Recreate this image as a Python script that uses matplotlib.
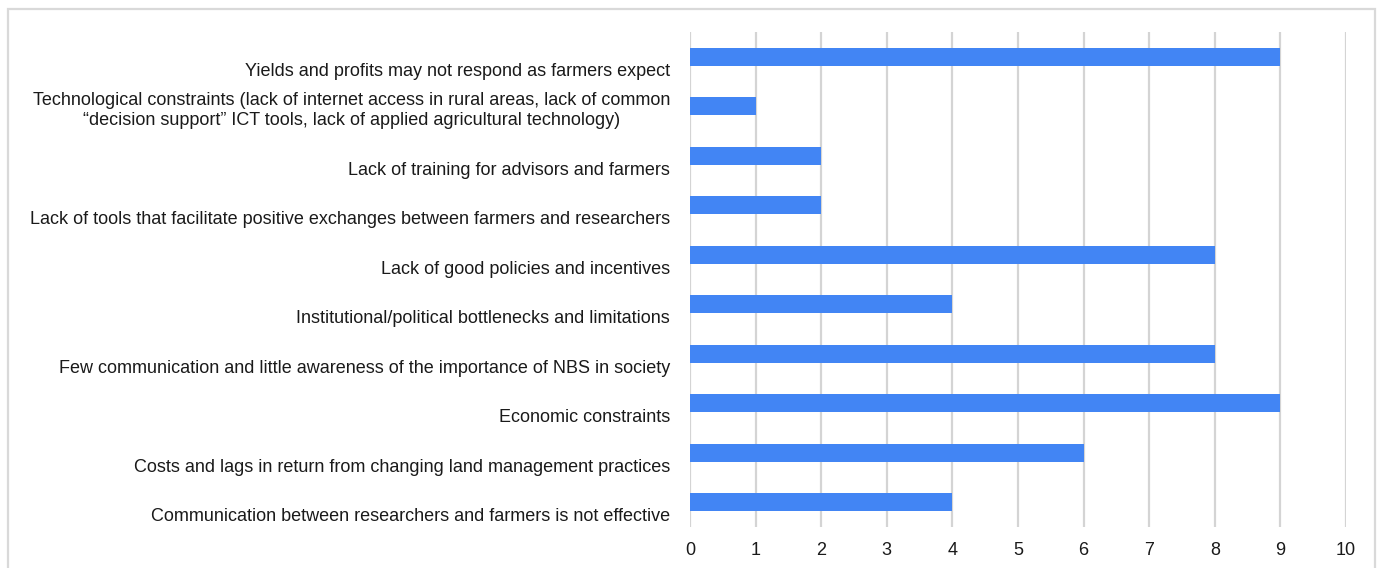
import matplotlib.pyplot as plt
import matplotlib.transforms as transforms
from matplotlib.patches import Rectangle

plt.rcParams['font.family'] = ['Liberation Sans', 'DejaVu Sans']

# barriers listed bottom to top
barriers = [
    'Communication between researchers and farmers is not effective',
    'Costs and lags in return from changing land management practices',
    'Economic constraints',
    'Few communication and little awareness of the importance of NBS in society',
    'Institutional/political bottlenecks and limitations',
    'Lack of good policies and incentives',
    'Lack of tools that facilitate positive exchanges between farmers and researchers',
    'Lack of training for advisors and farmers',
    'Technological constraints (lack of internet access in rural areas, lack of common\n'
    '\u201cdecision support\u201d ICT tools, lack of applied agricultural technology)',
    'Yields and profits may not respond as farmers expect',
]
counts = [4, 6, 9, 8, 4, 8, 2, 2, 1, 9]
x_ticks = list(range(0, 11))

fig = plt.figure(figsize=(13.78, 5.68), dpi=100)
ax = fig.add_axes([0.5007, 0.0722, 0.4761, 0.8715])

ypos = list(range(len(barriers)))
ax.barh(ypos, counts, height=0.36, color='#4285F4', zorder=3)

ax.set_xlim(0, 10)
ax.set_ylim(-0.5, len(barriers) - 0.5)
ax.set_xticks(x_ticks)
ax.set_xticklabels([str(t) for t in x_ticks], fontsize=13, color='#1a1a1a')
ax.tick_params(axis='x', length=0, pad=11)
ax.set_yticks([])
ax.grid(axis='x', color='#d4d4d4', linewidth=1.6, zorder=0)
for s in ax.spines.values():
    s.set_visible(False)

# category labels sit a little below their bars, right-aligned left of the axis
trans = transforms.blended_transform_factory(ax.transAxes, ax.transData) + \
    transforms.ScaledTranslation(-20 / 100, -23 / 100, fig.dpi_scale_trans)
for y, name in zip(ypos, barriers):
    ax.text(0, y, name, transform=trans, ha='right', va='bottom',
            multialignment='center', fontsize=13, color='#1a1a1a',
            linespacing=1.27)

# light frame around the chart (open at the bottom)
fig.add_artist(Rectangle((8 / 1378, -0.05), 1367 / 1378, 1.05 - 9 / 568,
                         transform=fig.transFigure, fill=False,
                         edgecolor='#d9d9d9', linewidth=1.6))

fig.savefig('out.png', dpi=100)
